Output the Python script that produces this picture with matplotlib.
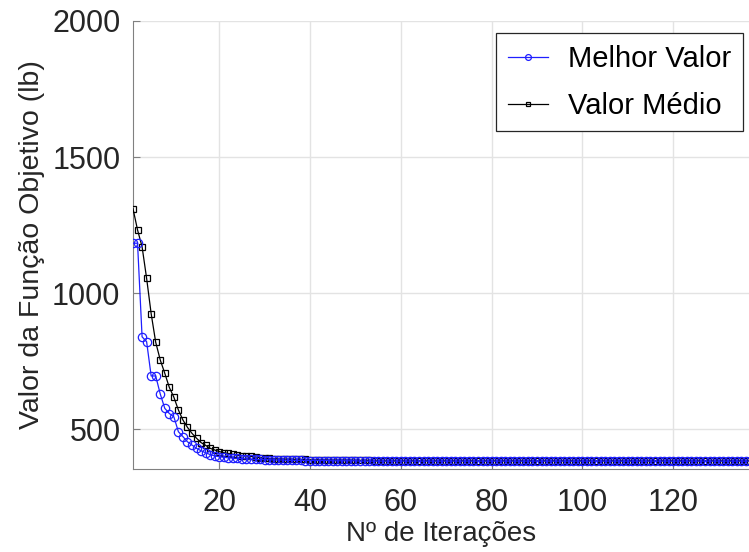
import matplotlib.pyplot as plt

plt.rcParams['font.family'] = ['Liberation Sans', 'DejaVu Sans']

# Melhor valor (blue circles)
melhor = [1183, 1183, 839, 821, 695, 695, 629, 576, 557, 545,
          490, 472, 453, 441, 429, 420, 413, 406, 401, 398,
          396, 394, 393, 392, 391, 390, 389, 388, 388, 387,
          387, 386, 386, 386, 385, 385, 385, 385, 384, 384,
          384, 384, 384, 384, 383, 383, 383, 383, 383, 383,
          382, 382, 382, 382, 382, 382, 382, 382, 382, 382,
          382, 382, 382, 382, 382, 382, 382, 382, 382, 382,
          382, 382, 382, 382, 382, 382, 382, 382, 382, 382,
          382, 382, 382, 382, 382, 382, 382, 382, 382, 382,
          382, 382, 382, 382, 382, 382, 382, 382, 382, 382,
          382, 382, 382, 382, 382, 382, 382, 382, 382, 382,
          382, 382, 382, 382, 382, 382, 382, 382, 382, 382,
          382, 382, 382, 382, 382, 382, 382, 382, 382, 382,
          382, 382, 382, 382, 382, 382, 382]

# Valor medio (black squares)
medio = [1310, 1232, 1170, 1054, 924, 819, 754, 705, 653, 617,
         570, 533, 506, 484, 466, 450, 440, 429, 423, 417,
         413, 410, 407, 404, 402, 401, 399, 397, 395, 393,
         392, 391, 390, 390, 389, 389, 388, 388, 388, 387,
         387, 387, 387, 386, 386, 386, 386, 386, 386, 385,
         385, 385, 385, 383, 383, 383, 383, 383, 383, 383,
         383, 383, 383, 383, 383, 383, 383, 383, 383, 383,
         383, 383, 383, 383, 383, 383, 383, 383, 383, 383,
         383, 383, 383, 383, 383, 383, 383, 383, 383, 383,
         383, 383, 383, 383, 383, 383, 383, 383, 383, 383,
         383, 383, 383, 383, 383, 383, 383, 383, 383, 383,
         383, 383, 383, 383, 383, 383, 383, 383, 383, 383,
         383, 383, 383, 383, 383, 383, 383, 383, 383, 383,
         383, 383, 383, 383, 383, 383, 383]

iteracoes = list(range(1, len(melhor) + 1))

fig = plt.figure(figsize=(7.49, 5.52), dpi=100)
ax = fig.add_axes([133 / 749, 83 / 552, 1 - 133 / 749, 448 / 552])

ax.plot(iteracoes, medio, color='black', lw=0.9, marker='s', ms=4.5,
        mfc='none', mew=0.9, label='Valor Médio', zorder=3)
ax.plot(iteracoes, melhor, color='#1f1fff', lw=0.9, marker='o', ms=6,
        mfc='none', mew=0.9, label='Melhor Valor', zorder=4)

ax.set_xlim(1, 136.7)
ax.set_ylim(353, 2000)
ax.set_xticks([20, 40, 60, 80, 100, 120])
ax.set_yticks([500, 1000, 1500, 2000])
ax.grid(True, color='#e3e3e3', lw=1)
ax.set_axisbelow(True)

ax.tick_params(direction='in', length=5, labelsize=22, colors='#808080',
               labelcolor='#262626', top=False, right=False)
ax.tick_params(axis='x', pad=14)
ax.tick_params(axis='y', pad=9)
ax.spines['right'].set_visible(False)
ax.spines['top'].set_visible(False)
ax.spines['left'].set_color('#808080')
ax.spines['bottom'].set_color('#808080')

ax.set_xlabel('Nº de Iterações', fontsize=20, color='#262626', labelpad=2)
ax.set_ylabel('Valor da Função Objetivo (lb)', fontsize=20.5, color='#262626', labelpad=5)

handles, labels = ax.get_legend_handles_labels()
leg = ax.legend(handles[::-1], labels[::-1], loc='upper right',
                bbox_to_anchor=(0.99, 0.973), borderaxespad=0, fontsize=21,
                fancybox=False, edgecolor='#262626', framealpha=1,
                markerscale=0.7, handlelength=1.35, handletextpad=0.7,
                borderpad=0.4, labelspacing=0.65)
leg.get_frame().set_linewidth(0.9)

fig.savefig('out.png', dpi=100)
